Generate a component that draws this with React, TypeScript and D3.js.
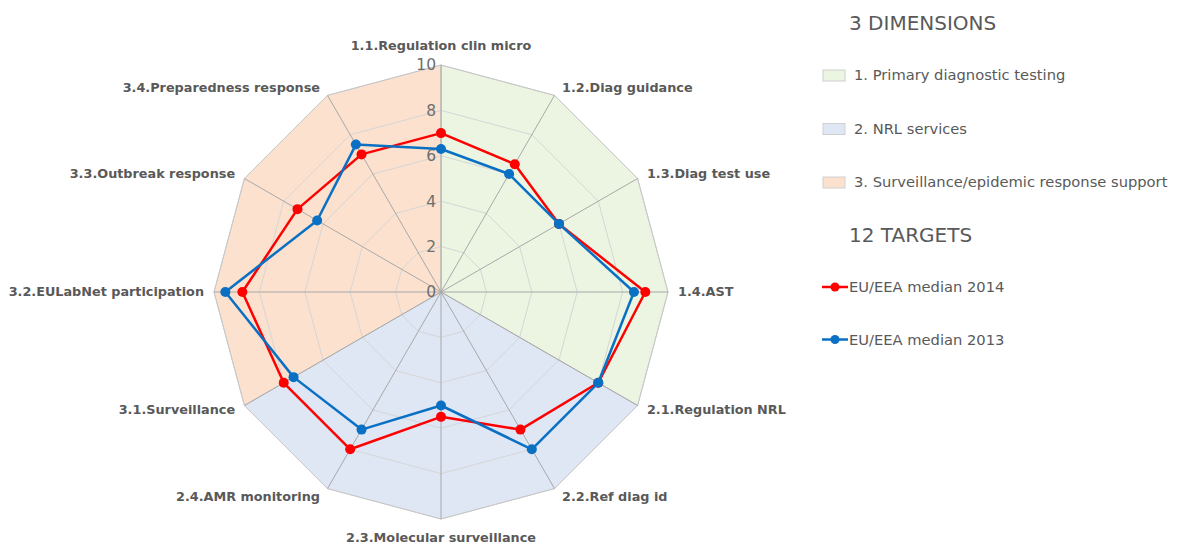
import React from "react";
import * as d3 from "d3";

const categories = [
  "1.1.Regulation clin micro",
  "1.2.Diag guidance",
  "1.3.Diag test use",
  "1.4.AST",
  "2.1.Regulation NRL",
  "2.2.Ref diag id",
  "2.3.Molecular surveillance",
  "2.4.AMR monitoring",
  "3.1.Surveillance",
  "3.2.EULabNet participation",
  "3.3.Outbreak response",
  "3.4.Preparedness response",
];
const median2014 = [7.0, 6.5, 6.0, 9.0, 8.0, 7.0, 5.5, 8.0, 8.0, 8.75, 7.3, 7.0];
const median2013 = [6.3, 6.0, 6.0, 8.5, 8.0, 8.0, 5.0, 7.0, 7.5, 9.5, 6.3, 7.5];
const ticks = [0, 2, 4, 6, 8, 10];
const dimensions = [
  { name: "1. Primary diagnostic testing", from: 0, to: 4, color: "#EBF5E2" },
  { name: "2. NRL services", from: 4, to: 8, color: "#DFE6F4" },
  { name: "3. Surveillance/epidemic response support", from: 8, to: 12, color: "#FCE1CE" },
];
const series = [
  { name: "EU/EEA median 2014", values: median2014, color: "#FF0000" },
  { name: "EU/EEA median 2013", values: median2013, color: "#0A70C4" },
];

const W = 1177;
const H = 548;
const cx = 441;
const cy = 292;
const R = 227;

export default function App() {
  const n = categories.length;
  const r = d3.scaleLinear().domain([0, 10]).range([0, R]);
  const ang = (i: number) => (i / n) * 2 * Math.PI;
  const pt = (i: number, v: number): [number, number] => [
    cx + r(v) * Math.sin(ang(i)),
    cy - r(v) * Math.cos(ang(i)),
  ];
  const lineGen = d3.line<[number, number]>().curve(d3.curveLinearClosed);
  const font = "Verdana, 'DejaVu Sans', sans-serif";
  const lfont = "Tahoma, 'DejaVu Sans', sans-serif";

  return (
    <svg width={W} height={H} style={{ position: "absolute", left: 0, top: 0 }}>
      <rect width={W} height={H} fill="#fff" />
      {dimensions.map((d) => {
        const pts: [number, number][] = [[cx, cy]];
        for (let i = d.from; i <= d.to; i++) pts.push(pt(i % n, 10));
        return (
          <path key={d.name} d={lineGen(pts) || ""} fill={d.color} stroke="#D0D0D0" strokeWidth={1} />
        );
      })}
      {ticks.slice(1).map((t) => (
        <path
          key={t}
          d={lineGen(d3.range(n).map((i) => pt(i, t))) || ""}
          fill="none"
          stroke={t === 10 ? "#C8C8C8" : "#D6D6D6"}
          strokeWidth={1}
        />
      ))}
      {d3.range(n).map((i) => {
        const [x, y] = pt(i, 10);
        return <line key={i} x1={cx} y1={cy} x2={x} y2={y} stroke="#A8A8A8" strokeWidth={1} />;
      })}
      {ticks.map((t) => (
        <text
          key={t}
          x={cx - 5}
          y={cy - r(t)}
          dy="0.35em"
          textAnchor="end"
          fontFamily={font}
          fontSize={15.5}
          fill="#6e6e6e"
        >
          {t}
        </text>
      ))}
      {series.map((s) => {
        const pts = s.values.map((v, i) => pt(i, v));
        return (
          <g key={s.name}>
            <path d={lineGen(pts) || ""} fill="none" stroke={s.color} strokeWidth={2.5} strokeLinejoin="round" />
            {pts.map((p, i) => (
              <circle key={i} cx={p[0]} cy={p[1]} r={5} fill={s.color} />
            ))}
          </g>
        );
      })}
      {categories.map((c, i) => {
        const a = ang(i);
        const [x, y] = pt(i, 10);
        const s = Math.sin(a);
        const co = Math.cos(a);
        let anchor: "start" | "middle" | "end" = "middle";
        if (s > 0.1) anchor = "start";
        else if (s < -0.1) anchor = "end";
        const ox = Math.abs(s) < 0.1 ? 0 : Math.sign(s) * (5 + 5 * Math.abs(s));
        const oy = Math.abs(s) < 0.1 ? -Math.sign(co) * 19 : -co * 9;
        return (
          <text
            key={c}
            x={x + ox}
            y={y + oy}
            dy="0.35em"
            textAnchor={anchor}
            fontFamily={lfont}
            fontWeight="bold"
            fontSize={12.8}
            fill="#595959"
          >
            {c}
          </text>
        );
      })}
      <text x={849} y={23} dy="0.35em" fontFamily={font} fontSize={20} fill="#595959">
        3 DIMENSIONS
      </text>
      {dimensions.map((d, i) => {
        const y = 75 + i * 53.5;
        return (
          <g key={d.name}>
            <rect x={823} y={y - 5} width={22} height={11} fill={d.color} stroke="#D0D0D0" />
            <text x={854} y={y} dy="0.35em" fontFamily={font} fontSize={14.7} fill="#595959">
              {d.name}
            </text>
          </g>
        );
      })}
      <text x={849} y={235} dy="0.35em" fontFamily={font} fontSize={20} fill="#595959">
        12 TARGETS
      </text>
      {series.map((s, i) => {
        const y = 287 + i * 52.5;
        return (
          <g key={s.name}>
            <line x1={822} x2={848} y1={y} y2={y} stroke={s.color} strokeWidth={2.5} />
            <circle cx={835} cy={y} r={4.5} fill={s.color} />
            <text x={849} y={y} dy="0.35em" fontFamily={font} fontSize={14.7} fill="#595959">
              {s.name}
            </text>
          </g>
        );
      })}
    </svg>
  );
}
